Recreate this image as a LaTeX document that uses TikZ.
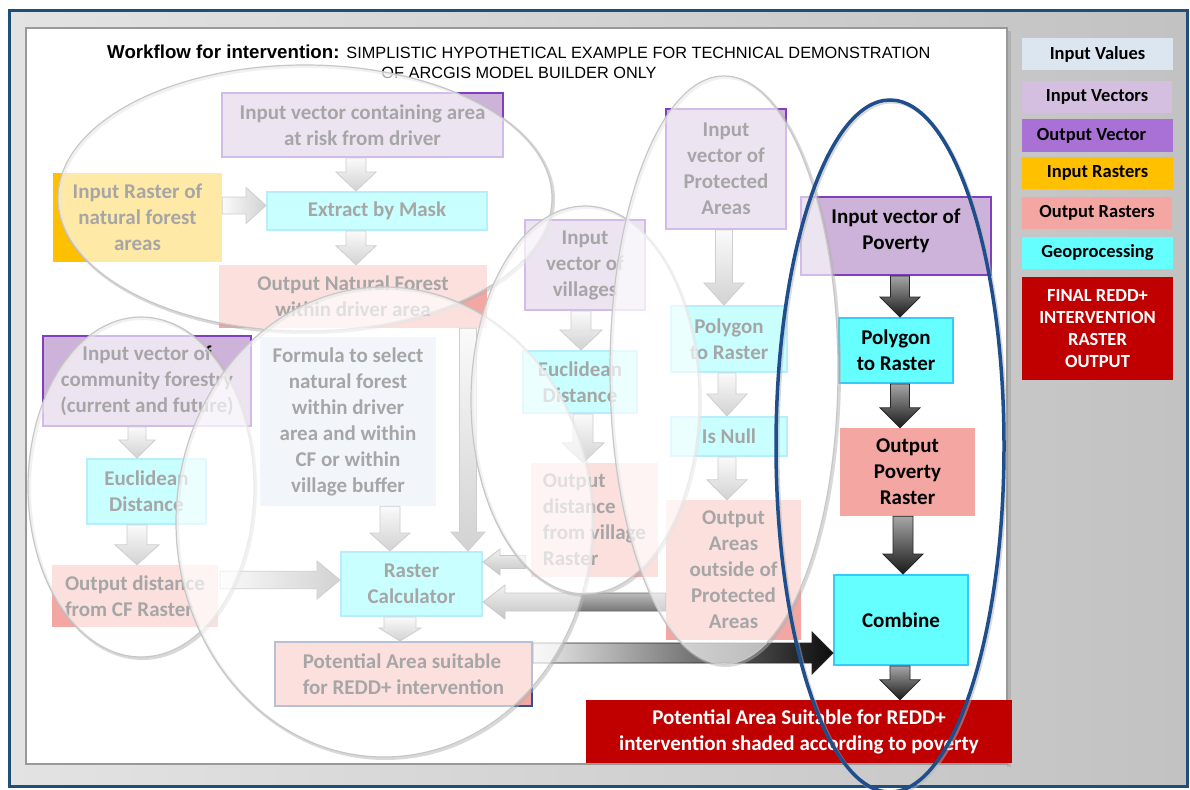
\documentclass[tikz,border=0pt]{standalone}
\usepackage{fontspec}
\setmainfont{Carlito}
\newfontfamily\arialf{Liberation Sans}
\usetikzlibrary{calc}
\definecolor{ivals}{HTML}{DCE6F1}
\definecolor{ivec}{HTML}{CDB3D9}
\definecolor{ivecleg}{HTML}{D5BFE0}
\definecolor{ovec}{HTML}{A970D6}
\definecolor{iras}{HTML}{FFC000}
\definecolor{oras}{HTML}{F4A7A2}
\definecolor{geo}{HTML}{66FFFF}
\definecolor{final}{HTML}{C00000}
\definecolor{vborder}{HTML}{7F3FBF}
\definecolor{gborder}{HTML}{33CCFF}
\definecolor{potborder}{HTML}{2F4F8F}
\definecolor{frameblue}{HTML}{1F4E79}
\definecolor{ellblue}{HTML}{1F4E8C}
\tikzset{
  box/.style={align=center, inner sep=0pt, font=\bfseries\fontsize{21}{26}\selectfont, text=black},
  vecbox/.style={box, fill=ivec, draw=vborder, line width=2pt},
  geobox/.style={box, fill=geo, draw=gborder, line width=2pt},
  rasbox/.style={box, fill=oras},
  inrbox/.style={box, fill=iras},
  valbox/.style={box, fill=ivals},
  potbox/.style={box, fill=oras, draw=potborder, line width=2pt},
  finbox/.style={box, fill=final, text=white},
  leg/.style={align=center, inner sep=0pt, font=\bfseries\fontsize{18.5}{22}\selectfont, text=black},
  fv/.style={top color=black!5, bottom color=black!50, draw=black!55, line width=0.8pt},
  fh/.style={left color=black!5, right color=black!50, draw=black!55, line width=0.8pt},
  fl/.style={top color=black!15, bottom color=black!65, draw=black!60, line width=0.8pt},
  dv/.style={top color=black!35, bottom color=black!90, draw=black!85, line width=0.8pt},
  dh/.style={left color=black!8, right color=black!95, draw=black!85, line width=0.8pt},
  ell/.style={fill=white, fill opacity=0.65, draw=black!22, line width=1.2pt,
    preaction={draw=black!30, draw opacity=0.5, line width=3pt, transform canvas={shift={(1.5pt,-1.5pt)}}}},
}
\newcommand\bx[7][]{\node[#1, minimum width={(#5)-(#3)}, minimum height={(#6)-(#4)}] (#2) at ({((#3)+(#5))/2},{((#4)+(#6))/2}) {#7};}
\newcommand\mkarrow[4][]{%
  \coordinate (bH) at ($(bB)!#4pt!(bA)$);
  \path[#1] ($(bA)!#2pt!90:(bB)$) -- ($(bH)!#2pt!90:(bB)$) -- ($(bH)!#3pt!90:(bB)$) -- (bB) -- ($(bH)!#3pt!-90:(bB)$) -- ($(bH)!#2pt!-90:(bB)$) -- ($(bA)!#2pt!-90:(bB)$) -- cycle;}
\newcommand\varrow[6][]{\coordinate (bA) at #2; \coordinate (bB) at (bA |- #3); \mkarrow[#1]{#4}{#5}{#6}}
\newcommand\harrow[6][]{\coordinate (bA) at #2; \coordinate (bB) at (bA -| #3); \mkarrow[#1]{#4}{#5}{#6}}
\begin{document}
\begin{tikzpicture}[x=1pt,y=-1pt]
\useasboundingbox (0,0) rectangle (1190,789);
\fill[white] (0,0) rectangle (1190,789);
% frame and panel
\path[left color=black!11, right color=black!24, draw=frameblue, line width=3pt] (9,11) rectangle (1187,786);
\fill[black!30] (1007,31) rectangle (1011,767);
\path[fill=white, draw=black!40, line width=1.5pt] (26,28) rectangle (1007,764);
% title
\node[anchor=base west, inner sep=0pt] (title) at (107,59) {\arialf\fontsize{18.7}{20}\selectfont\textbf{Workflow for intervention:} \fontsize{16.3}{18}\selectfont SIMPLISTIC HYPOTHETICAL EXAMPLE FOR TECHNICAL DEMONSTRATION};
\node[anchor=base, inner sep=0pt] (title2) at (519,79) {\arialf\fontsize{16.3}{18}\selectfont OF ARCGIS MODEL BUILDER ONLY};
% boxes
\bx[vecbox]{ivarea}{222}{93}{503}{157}{Input vector containing area\\at risk from driver}
\bx[inrbox]{iraster}{53}{173}{222}{262}{Input Raster of\\natural forest\\areas}
\bx[geobox]{extract}{267}{192}{487}{230}{Extract by Mask}
\bx[rasbox]{onf}{219}{265}{487}{328}{Output Natural Forest\\within driver area}
\bx[vecbox]{villages}{525}{220}{645}{310}{Input\\vector of\\villages}
\bx[vecbox]{pa}{666}{109}{786}{229}{Input\\vector of\\Protected\\Areas}
\bx[vecbox]{povin}{801}{197}{991}{275}{\raisebox{0pt}[0pt][0pt]{\begin{tabular}{@{}c@{}}Input vector of\\Poverty\end{tabular}}}
\bx[geobox]{povpoly}{839}{318}{953}{383}{Polygon\\to Raster}
\bx[rasbox]{povout}{840}{428}{975}{516}{Output\\Poverty\\Raster}
\bx[geobox]{combine}{834}{575}{968}{665}{Combine}
\bx[finbox]{final}{586}{700}{1012}{763}{Potential Area Suitable for REDD+\\intervention shaded according to poverty}
\bx[geobox]{papoly}{671}{306}{787}{372}{Polygon\\to Raster}
\bx[geobox]{isnull}{671}{417}{787}{456}{Is Null}
\bx[rasbox]{outpa}{666}{500}{801}{640}{Output\\Areas\\outside of\\Protected\\Areas}
\bx[geobox]{eucv}{523}{351}{637}{413}{Euclidean\\Distance}
\bx[rasbox,align=left]{outv}{531}{463}{658}{577}{Output\\distance\\from village\\Raster}
\bx[vecbox]{cf}{43}{336}{251}{426}{Input vector of\\community forestry\\(current and future)}
\bx[geobox]{eucc}{87}{459}{206}{524}{Euclidean\\Distance}
\bx[rasbox,align=left]{outcf}{52}{565}{218}{627}{Output distance\\from CF Raster}
\bx[valbox]{formula}{260}{337}{436}{506}{Formula to select\\natural forest\\within driver\\area and within\\CF or within\\village buffer}
\bx[geobox]{rc}{341}{552}{482}{616}{Raster\\Calculator}
\bx[potbox,align=left]{pot}{275}{642}{532}{706}{Potential Area suitable\\for REDD+ intervention}
% arrows
\varrow[fv]{($(ivarea.south)+(-6.5,0)$)}{extract.north}{10}{20}{19}
\harrow[fh]{($(iraster.east)+(0,-12)$)}{extract.west}{8.5}{18}{20}
\varrow[fv]{($(extract.south)+(-21,0)$)}{onf.north}{10}{20}{19}
\varrow[fv]{($(onf.south)+(115,0)$)}{rc.north}{8.5}{17}{19}
\varrow[fv]{($(cf.south)+(-10,0)$)}{eucc.north}{9}{18}{18}
\varrow[fv]{($(eucc.south)+(-9.5,0)$)}{outcf.north}{10}{22}{20}
\harrow[fh]{($(outcf.east)+(2,-16)$)}{rc.west}{8.7}{19}{23}
\varrow[fv]{($(formula.south)+(42,0)$)}{rc.north}{10}{20}{18}
\varrow[fv]{($(rc.south)+(-11.5,0)$)}{pot.north}{16}{21}{13}
\varrow[fv]{($(villages.south)+(-4,0)$)}{eucv.north}{10}{21}{20}
\varrow[fv]{($(eucv.south)+(3,0)$)}{outv.north}{10}{21}{20}
\harrow[fl]{($(outv.west)+(-5,42)$)}{rc.east}{6.5}{13}{17}
\harrow[fl]{($(outpa.west)+(0,32)$)}{rc.east}{9}{17}{22}
\varrow[fv]{($(pa.south)+(-2,0)$)}{papoly.north}{8.5}{20}{22}
\varrow[fv]{($(papoly.south)+(-2,0)$)}{isnull.north}{9}{20}{22}
\varrow[fv]{($(isnull.south)+(-2,0)$)}{outpa.north}{9}{20}{20}
\harrow[dh]{($(pot.east)+(0,-21)$)}{combine.west}{10}{21}{21}
\varrow[dv]{($(povin.south)+(4,0)$)}{povpoly.north}{9.5}{20}{20}
\varrow[dv]{($(povpoly.south)+(4,0)$)}{povout.north}{9.5}{20}{20}
\varrow[dv]{($(povout.south)+(-4.5,0)$)}{combine.north}{10}{20}{20}
\varrow[dv]{($(combine.south)+(-1,0)$)}{final.north}{10}{20}{20}
% ellipses
\path[ell] (305,198) ellipse [x radius=247pt, y radius=133pt];
\path[ell] (141,487) ellipse [x radius=113pt, y radius=170pt];
\path[ell] (384,522) ellipse [x radius=208pt, y radius=235pt];
\path[ell] (585,400) ellipse [x radius=114pt, y radius=194pt];
\path[ell] (724,370) ellipse [x radius=114pt, y radius=294pt];
\draw[ellblue, line width=3.5pt, preaction={draw=black!30, draw opacity=0.5, line width=4pt, transform canvas={shift={(1.5pt,-1.5pt)}}}] (890,446) ellipse [x radius=114pt, y radius=346pt];
% legend
\bx[leg,fill=ivals]{lg1}{1022}{38}{1173}{70}{Input Values}
\bx[leg,fill=ivecleg]{lg2}{1022}{81}{1172}{113}{Input Vectors}
\bx[leg,fill=ovec]{lg3}{1022}{119}{1173}{152}{Output Vector\hspace*{12pt}}
\bx[leg,fill=iras]{lg4}{1022}{157}{1173}{189}{Input Rasters}
\bx[leg,fill=oras]{lg5}{1022}{197}{1172}{229}{Output Rasters}
\bx[leg,fill=geo]{lg6}{1022}{237}{1173}{269}{Geoprocessing}
\bx[leg,fill=final,text=white]{lg7}{1022}{277}{1173}{380}{FINAL REDD+\\INTERVENTION\\RASTER\\OUTPUT}
\end{tikzpicture}
\end{document}
